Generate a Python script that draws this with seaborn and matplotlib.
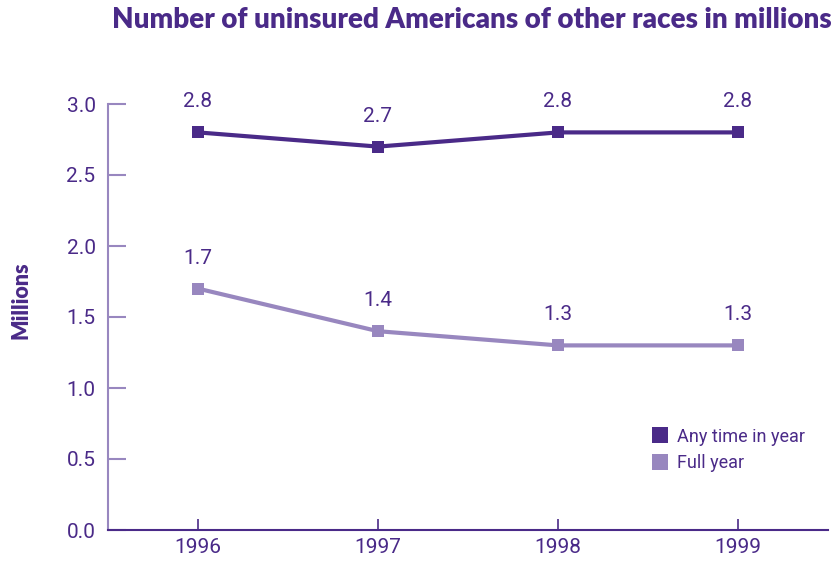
import matplotlib
matplotlib.use("Agg")
import matplotlib.pyplot as plt
import seaborn as sns
import pandas as pd

years = [1996, 1997, 1998, 1999]
any_time = [2.8, 2.7, 2.8, 2.8]
full_year = [1.7, 1.4, 1.3, 1.3]
series_names = ["Any time in year", "Full year"]
yticks = [0.0, 0.5, 1.0, 1.5, 2.0, 2.5, 3.0]

DARK = "#4a2a88"
LIGHT = "#9887bf"
TEXT = "#4a2a88"

df = pd.DataFrame({
    "year": years * 2,
    "value": any_time + full_year,
    "series": [series_names[0]] * 4 + [series_names[1]] * 4,
})

sns.set_style("white")
plt.rcParams["font.family"] = ["Roboto", "DejaVu Sans"]

fig = plt.figure(figsize=(8.38, 5.61), dpi=100)
ax = fig.add_axes([108 / 838, 1 - 530 / 561, (828 - 108) / 838, (530 - 104) / 561])

sns.lineplot(data=df, x="year", y="value", hue="series",
             palette={series_names[0]: DARK, series_names[1]: LIGHT},
             marker="s", markersize=9, markeredgewidth=0, linewidth=3,
             ax=ax, legend=False)

for xs, ys in [(years, any_time), (years, full_year)]:
    for x, y in zip(xs, ys):
        ax.annotate(f"{y:.1f}", (x, y), xytext=(0, 22), textcoords="offset points",
                    ha="center", va="center", fontsize=15, color=TEXT)

ax.set_xlim(1995.5, 1999.5)
ax.set_ylim(0, 3.0)
ax.set_xticks(years)
ax.set_xticklabels([str(y) for y in years])
ax.set_yticks(yticks)
ax.set_yticklabels([f"{v:.1f}" for v in yticks])
ax.set_xlabel("")
ax.set_ylabel("Millions", fontsize=15.5, fontweight="heavy", color=TEXT,
              family=["Lato", "DejaVu Sans"])
ax.yaxis.set_label_coords(-0.106, 0.54)

for s in ["top", "right"]:
    ax.spines[s].set_visible(False)
ax.spines["left"].set_color(LIGHT)
ax.spines["left"].set_linewidth(1.5)
ax.spines["bottom"].set_color(DARK)
ax.spines["bottom"].set_linewidth(1.5)

ax.tick_params(axis="y", direction="in", length=13, width=1.5, color=LIGHT,
               labelsize=15, labelcolor=TEXT, pad=9, left=True)
ax.tick_params(axis="x", direction="in", length=8, width=1.2, color=DARK,
               labelsize=15, labelcolor=TEXT, pad=6, bottom=True)

# legend
from matplotlib.patches import Patch
handles = [Patch(facecolor=DARK, edgecolor="none"), Patch(facecolor=LIGHT, edgecolor="none")]
leg = ax.legend(handles, series_names, loc="upper left", bbox_to_anchor=(0.745, 0.258),
                frameon=False, fontsize=13, handlelength=0.9, handleheight=1.0,
                handletextpad=0.5, labelspacing=0.45, borderaxespad=0)
for t in leg.get_texts():
    t.set_color(TEXT)

fig.text(0.563, 0.964, "Number of uninsured Americans of other races in millions",
         ha="center", va="center", fontsize=20, fontweight="heavy", color=TEXT,
         family=["Lato", "DejaVu Sans"])

fig.savefig("out.png", dpi=100, facecolor="white")
